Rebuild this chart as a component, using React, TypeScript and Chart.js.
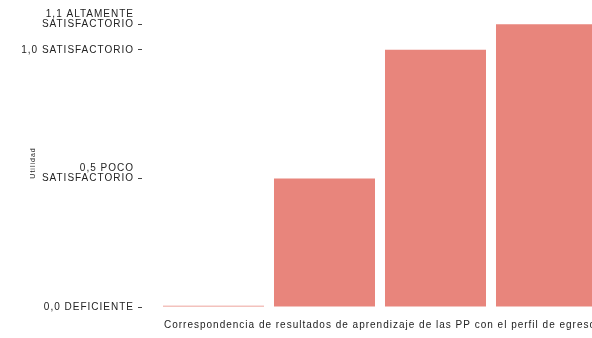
import React, { useEffect, useRef } from "react";
import { Chart, registerables } from "chart.js";

Chart.register(...registerables);

const CATEGORIES = ["1", "2", "3", "4"];
const VALUES = [0.005, 0.5, 1.0, 1.1];
const TICK_VALUES = [0, 0.5, 1.0, 1.1];
const TICK_LABELS: (string | string[])[] = [
  "0,0 DEFICIENTE",
  ["0,5 POCO", "SATISFACTORIO", ""],
  "1,0 SATISFACTORIO",
  ["1,1 ALTAMENTE", "SATISFACTORIO", ""],
];
const X_TITLE =
  "Correspondencia de resultados de aprendizaje de las PP con el perfil de egreso";
const Y_TITLE = "Utilidad";

const spacingPlugin = {
  id: "spacing",
  beforeUpdate(chart: any) {
    chart.ctx.letterSpacing = "1px";
  },
  beforeDraw(chart: any) {
    chart.ctx.letterSpacing = "1px";
  },
};

const FONT = "'Liberation Sans', Arial, sans-serif";

export default function App() {
  const ref = useRef<HTMLCanvasElement | null>(null);

  useEffect(() => {
    if (!ref.current) return;
    const chart = new Chart(ref.current, {
      type: "bar",
      data: {
        labels: CATEGORIES,
        datasets: [
          {
            data: VALUES,
            backgroundColor: "#e8857c",
            borderWidth: 0,
            barPercentage: 0.91,
            categoryPercentage: 1,
          },
        ],
      },
      plugins: [spacingPlugin],
      options: {
        responsive: false,
        animation: false,
        devicePixelRatio: 1,
        layout: { padding: { top: 17, bottom: 3, left: 0, right: 0 } },
        plugins: {
          legend: { display: false },
          tooltip: { enabled: false },
        },
        scales: {
          x: {
            offset: true,
            grid: { display: false, drawTicks: false },
            border: { display: false },
            ticks: { display: false },
            title: {
              display: true,
              text: X_TITLE,
              color: "#222",
              font: { family: FONT, size: 10, lineHeight: 1.2 },
              padding: { top: 12, bottom: 4 },
            },
          },
          y: {
            min: 0,
            max: 1.12,
            afterBuildTicks: (scale: any) => {
              scale.ticks = TICK_VALUES.map((v) => ({ value: v }));
            },
            afterFit: (scale: any) => {
              scale.width = 158;
            },
            grid: {
              drawOnChartArea: false,
              drawTicks: true,
              tickLength: 20,
              tickColor: "#444",
              tickWidth: 1,
              tickBorderDash: [4, 50],
            },
            border: { display: false },
            ticks: {
              padding: 4,
              color: "#222",
              font: { family: FONT, size: 10, lineHeight: 1.0 },
              callback: (value: any) => {
                const i = TICK_VALUES.findIndex((t) => Math.abs(t - Number(value)) < 1e-6);
                return i >= 0 ? TICK_LABELS[i] : "";
              },
            },
            title: {
              display: true,
              text: Y_TITLE,
              color: "#222",
              font: { family: FONT, size: 7 },
              padding: { top: 29, bottom: 0 },
            },
          },
        },
      },
    } as any);
    return () => chart.destroy();
  }, []);

  return (
    <div
      style={{
        position: "fixed",
        left: 0,
        top: 0,
        width: 592,
        height: 338,
        overflow: "hidden",
        background: "#fff",
      }}
    >
      <canvas ref={ref} width={602} height={338} style={{ display: "block", width: 602, height: 338 }} />
    </div>
  );
}
